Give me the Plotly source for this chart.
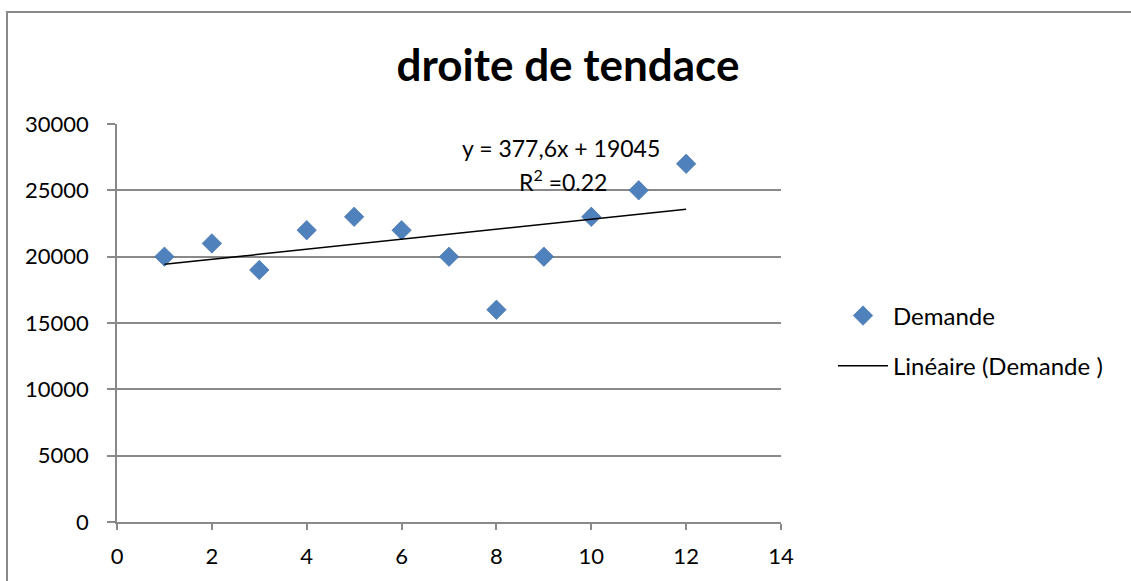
import plotly.graph_objects as go

# Monthly demand and its least-squares trend
periods = [1, 2, 3, 4, 5, 6, 7, 8, 9, 10, 11, 12]
demande = [20000, 21000, 19000, 22000, 23000, 22000, 20000, 16000, 20000, 23000, 25000, 27000]
slope = 377.6
intercept = 19045
equation_text = "y = 377,6x + 19045"
r2_text = "R<sup>2</sup> =0.22"

trend_x = [periods[0], periods[-1]]
trend_y = [slope * x + intercept for x in trend_x]

FONT = "Lato, Calibri, Carlito, sans-serif"
GRID = "#898989"
FS = 24
TICK_FS = 22

fig = go.Figure()
fig.add_trace(go.Scatter(
    x=periods, y=demande, mode="markers", name="Demande", legendgroup="pts",
    marker=dict(symbol="diamond", size=15, color="#4F81BD",
                line=dict(width=0.6, color="#3F6FA8")),
))
fig.add_trace(go.Scatter(
    x=trend_x, y=trend_y, mode="lines", name="Linéaire (Demande )", legendgroup="fit",
    line=dict(color="black", width=1.5),
))

fig.update_layout(
    width=1131, height=581,
    margin=dict(l=117, r=350, t=124, b=59),
    paper_bgcolor="white", plot_bgcolor="white",
    font=dict(family=FONT, size=FS, color="black"),
    title=dict(text="<b>droite de tendace</b>", x=(568 - 117) / 664, xref="paper",
               y=(581 - 66) / 581, yref="container", xanchor="center", yanchor="middle",
               font=dict(family=FONT, size=44, color="black")),
    showlegend=True,
    legend=dict(x=(833 - 117) / 664, xanchor="left", y=(522 - 341) / 398, yanchor="middle",
                font=dict(family=FONT, size=FS), bgcolor="rgba(0,0,0,0)",
                itemwidth=50, tracegroupgap=16),
    xaxis=dict(range=[0, 14], dtick=2, tick0=0, showgrid=False, zeroline=False,
               showline=True, linecolor=GRID, linewidth=1.5,
               ticks="outside", ticklen=6, tickwidth=1.5, tickcolor=GRID,
               ticklabelstandoff=8, tickfont=dict(family=FONT, size=TICK_FS)),
    yaxis=dict(range=[0, 30000], dtick=5000, tick0=0, tickformat="d",
               showgrid=True, gridcolor=GRID,
               gridwidth=1.5, zeroline=False, showline=True, linecolor=GRID, linewidth=1.5,
               ticks="outside", ticklen=8, tickwidth=1.5, tickcolor=GRID,
               ticklabelstandoff=14, tickfont=dict(family=FONT, size=TICK_FS)),
    annotations=[
        dict(text=equation_text, xref="paper", yref="paper",
             x=(561 - 117) / 664, y=(522 - 148) / 398, showarrow=False,
             xanchor="center", yanchor="middle", font=dict(family=FONT, size=23)),
        dict(text=r2_text, xref="paper", yref="paper",
             x=(563 - 117) / 664, y=(522 - 180) / 398, showarrow=False,
             xanchor="center", yanchor="middle", font=dict(family=FONT, size=23)),
    ],
    shapes=[
        # chart frame
        dict(type="rect", xref="paper", yref="paper",
             x0=(7 - 117) / 664, x1=(1200 - 117) / 664,
             y0=(522 - 640) / 398, y1=(522 - 12) / 398,
             line=dict(color=GRID, width=2), fillcolor="rgba(0,0,0,0)", layer="below"),
    ],
)

fig.write_html("out.html")
